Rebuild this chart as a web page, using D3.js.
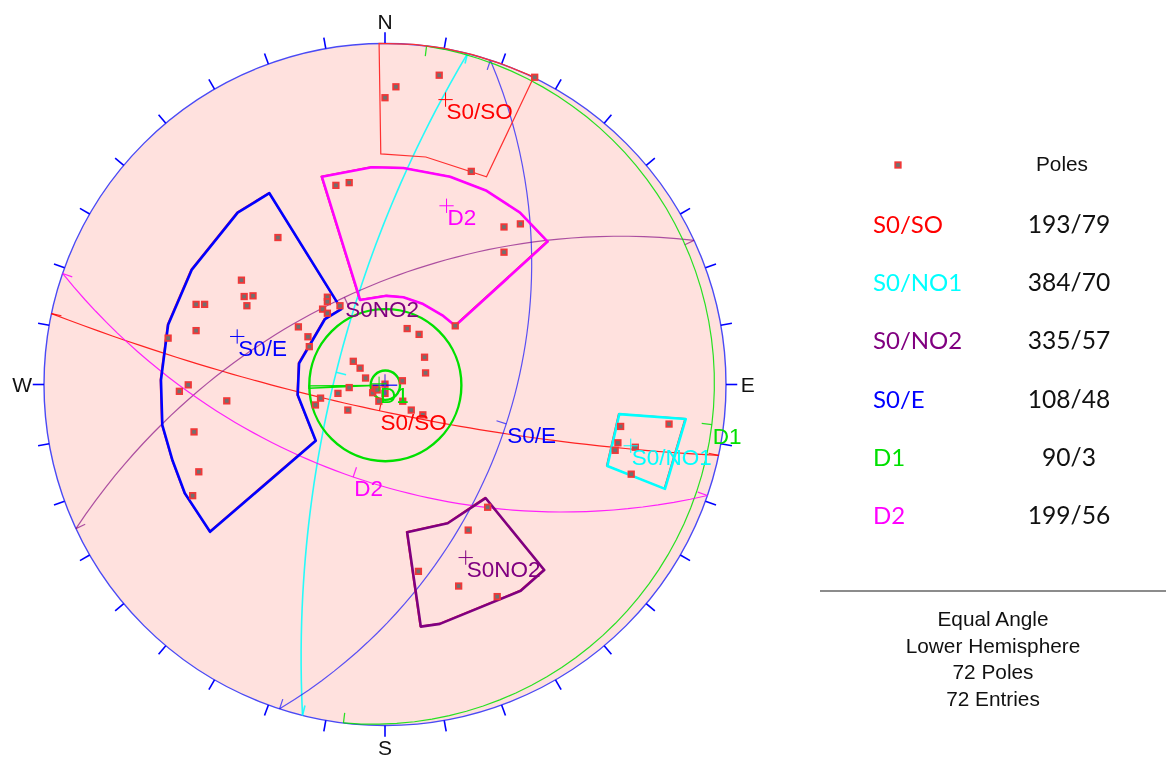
<!DOCTYPE html>
<html>
<head>
<meta charset="utf-8">
<script src="https://cdn.jsdelivr.net/npm/d3@7"></script>
<style>
  html, body { margin: 0; padding: 0; background: white; }
  svg { display: block; filter: blur(0.4px); }
  text { font-family: "Liberation Sans", Arial, sans-serif; }
</style>
</head>
<body>
<div id="visualization"></div>
<script>
let w = 1166, h = 758;

let poles = [
  [15.9, 90.7], [3.2, 87.3], [0, 84.1], [25.3, 62.5], [43.9, 90.1],
  [-14.4, 58.4], [-10.5, 59.2], [34.9, 46.2], [39.7, 47.1], [34.9, 38.8],
  [20.6, 17.2], [6.5, 16.4], [10.0, 14.7], [-16.9, 25.6], [-16.9, 24.3],
  [-18.3, 22.1], [-16.9, 20.9], [-13.2, 23.1], [-25.4, 16.9], [-22.6, 14.0],
  [-22.2, 11.1], [11.6, 8.0], [11.9, 3.4], [-9.3, 6.8], [-7.3, 4.8],
  [-5.7, 1.9], [5.1, 1.1], [-10.5, -0.9], [-13.8, -2.6], [-18.9, -4.0],
  [-20.4, -6.0], [-10.9, -7.5], [-1.8, -4.9], [5.2, -4.9], [7.7, -7.5],
  [11.1, -8.9], [-3.6, -2.4], [-2.9, -1.1], [-2.3, -1.6], [0, 0.1],
  [0, -2.6], [-31.4, 43.1], [-42.1, 30.6], [-41.3, 25.8], [-38.7, 26.0],
  [-40.5, 23.1], [-55.4, 23.5], [-52.9, 23.5], [-55.4, 15.8], [-63.6, 13.6],
  [-57.7, -0.1], [-60.3, -2.0], [-46.4, -4.8], [-56.0, -13.9], [-54.6, -25.6],
  [-56.4, -32.6], [69.1, -12.3], [83.3, -11.6], [68.3, -17.1], [67.5, -19.3],
  [73.4, -18.4], [72.2, -26.3], [30.1, -36.0], [24.4, -42.7], [9.8, -54.8],
  [21.6, -59.1], [32.9, -62.2]
];

// set windows, same units as the poles
let windowSO = [[-1.5, 99.9], [-1.0, 67.5], [12.2, 66.6], [30, 60.8], [43.9, 90.1], [34.2, 94], [25.9, 96.6], [17.4, 98.5], [8.7, 99.6]];
let windowD2 = [[-18.5, 60.9], [-3.9, 63.7], [5.4, 63.5], [19.1, 60.9], [29.8, 56.8], [39.6, 50.4], [47.7, 41.9], [20.6, 17.2], [17.1, 20.1], [11.2, 23.6], [5.4, 25.6], [0.5, 26.0], [-7.3, 24.8]];
let windowE = [[-33.9, 56.1], [-43.2, 50.4], [-56.7, 33.6], [-63.6, 17.5], [-65.7, 1.3], [-65.3, -11.9], [-62.3, -22.3], [-58.7, -31.9], [-51.3, -43.2], [-20.3, -16.5], [-25.6, -3.1], [-25.2, 6.2], [-17.6, 19.2], [-12.8, 22.1]];
let windowNO1 = [[68.7, -8.7], [88.2, -10.1], [82.1, -30.6], [65.2, -23.9]];
let windowNO2 = [[29.5, -33.3], [46.7, -54.4], [39.8, -60.5], [16.1, -70.2], [10.5, -71.0], [6.5, -43.3], [18.4, -40.7]];
let wedgeD1 = [[-22.3, -0.4], [-3.5, -0.3], [-22.3, -1.1]];

// planes as they plot on the net: dip direction, dip
let setNames = ["S0/SO", "S0/NO1", "S0NO2", "S0/E", "D1", "D2"];
let setColors = ["#ff0000", "#00ffff", "#800080", "#0000ff", "#00e000", "#ff00ff"];
let dipDirs = [192, 284, 335, 108, 97, 199];
let dips = [81, 73.2, 58.5, 49, 2, 58];

// legend
let legendNames = ["S0/SO", "S0/NO1", "S0/NO2", "S0/E", "D1", "D2"];
let legendValues = ["193/79", "384/70", "335/57", "108/48", "90/3", "199/56"];
let legendColors = ["#ff0000", "#00ffff", "#800080", "#0000ff", "#00e000", "#ff00ff"];
let infoLines = ["Equal Angle", "Lower Hemisphere", "72 Poles", "72 Entries"];

let cardinals = [["N", 0], ["E", 90], ["S", 180], ["W", 270]];

let viz = d3.select("#visualization")
    .append("svg")
    .attr("width", w)
    .attr("height", h)
;

let xScale = d3.scaleLinear().domain([-100, 100]).range([44, 726]);
let yScale = d3.scaleLinear().domain([-100, 100]).range([725.5, 43.5]);
let rScale = d3.scaleLinear().domain([0, 100]).range([0, 341]);

let line = d3.line().x(d => xScale(d[0])).y(d => yScale(d[1]));

function rad(a){
  return a * Math.PI / 180;
}

// equal angle projection of a trend/plunge
function project(trend, plunge){
  let r = 100 * Math.tan(rad(90 - plunge) / 2);
  return [r * Math.sin(rad(trend)), r * Math.cos(rad(trend))];
}

// great circle of a plane, walked from one strike end to the other
function greatCircle(dipDir, dip){
  let strike = dipDir - 90;
  return d3.range(0, 181, 3).map(function(a){
    let sx = Math.sin(rad(strike)) * Math.cos(rad(a));
    let sy = Math.cos(rad(strike)) * Math.cos(rad(a));
    let horiz = Math.cos(rad(dip)) * Math.sin(rad(a));
    let down = Math.sin(rad(dip)) * Math.sin(rad(a));
    let ex = sx + Math.sin(rad(dipDir)) * horiz;
    let ey = sy + Math.cos(rad(dipDir)) * horiz;
    let trend = Math.atan2(ex, ey) * 180 / Math.PI;
    let plunge = Math.asin(Math.min(1, down)) * 180 / Math.PI;
    return project(trend, plunge);
  });
}

// short mark from a point on the net towards the middle
function inwardTick(p, size){
  let r = Math.hypot(p[0], p[1]);
  return [p, [p[0] - p[0] / r * size, p[1] - p[1] / r * size]];
}

// the net
viz.append("circle")
    .attr("cx", xScale(0))
    .attr("cy", yScale(0))
    .attr("r", rScale(100))
    .attr("fill", "#ffe1de")
    .attr("stroke", "#4a4af5")
    .attr("stroke-width", 1.4)
;

viz.selectAll(".rimtick").data(d3.range(0, 360, 10)).enter()
    .append("path")
    .attr("class", "rimtick")
    .attr("d", function(a){
      return line([100, 103.3].map(r => [r * Math.sin(rad(a)), r * Math.cos(rad(a))]));
    })
    .attr("stroke", "#0000ff")
    .attr("stroke-width", 1.6)
    .attr("fill", "none")
;

viz.selectAll(".cardinal").data(cardinals).enter()
    .append("text")
    .attr("class", "cardinal")
    .attr("x", d => xScale(106.4 * Math.sin(rad(d[1]))))
    .attr("y", d => yScale(106.4 * Math.cos(rad(d[1]))) + 7.5)
    .attr("text-anchor", "middle")
    .attr("font-size", 21)
    .attr("fill", "#111")
    .text(d => d[0])
;

// great circles with their ticks
setNames.forEach(function(name, i){
  let pts = greatCircle(dipDirs[i], dips[i]);
  let color = setColors[i];
  let g = viz.append("g")
      .attr("fill", "none")
      .attr("stroke", color)
      .attr("stroke-width", i == 1 ? 1.6 : 1.2)
      .attr("stroke-opacity", i == 2 || i == 3 ? 0.65 : 0.85)
  ;
  g.append("path").attr("d", line(pts));
  let mid = pts[30];
  g.append("path").attr("d", line(inwardTick(mid, 3)));
  g.append("path").attr("d", line(inwardTick(pts[0], 3)));
  g.append("path").attr("d", line(inwardTick(pts[60], 3)));
});

// thin red outlines that sit just under the set windows
[windowSO, windowD2, windowE, windowNO1, windowNO2].forEach(function(win){
  viz.append("path")
      .attr("d", line(win) + "Z")
      .attr("transform", "translate(-0.8,-0.4)")
      .attr("fill", "none")
      .attr("stroke", "#ff3030")
      .attr("stroke-width", 1.2)
  ;
});

let thickWindows = [
  [windowD2, "#ff00ff"],
  [windowE, "#0000ff"],
  [windowNO1, "#00ffff"],
  [windowNO2, "#800080"]
];
thickWindows.forEach(function(d){
  viz.append("path")
      .attr("d", line(d[0]) + "Z")
      .attr("fill", "none")
      .attr("stroke", d[1])
      .attr("stroke-width", 2.6)
      .attr("stroke-linejoin", "round")
  ;
});

// D1 window: the two circles and the closed wedge
[22.3, 4.3].forEach(function(r){
  viz.append("circle")
      .attr("cx", xScale(0.1))
      .attr("cy", yScale(-0.2))
      .attr("r", rScale(r))
      .attr("fill", "none")
      .attr("stroke", "#00e000")
      .attr("stroke-width", 2.4)
  ;
});
viz.append("path")
    .attr("d", line(wedgeD1) + "Z")
    .attr("fill", "none")
    .attr("stroke", "#00e000")
    .attr("stroke-width", 1.4)
;

// poles
viz.selectAll(".pole").data(poles).enter()
    .append("rect")
    .attr("class", "pole")
    .attr("x", d => xScale(d[0]) - 2.75)
    .attr("y", d => yScale(d[1]) - 2.75)
    .attr("width", 5.5)
    .attr("height", 5.5)
    .attr("fill", "#707070")
    .attr("stroke", "#f03838")
    .attr("stroke-width", 1.8)
;

// blue crosshair in the middle of the net
viz.append("path")
    .attr("d", line([[-3.6, -0.2], [3.6, -0.2]]))
    .attr("stroke", "#0000ff")
    .attr("stroke-width", 1.2)
;
viz.append("path")
    .attr("d", line([[0, 3], [0, -3]]))
    .attr("stroke", "#6040e0")
    .attr("stroke-width", 1.2)
;

// mean pole crosses and labels at both the pole and the plane
setNames.forEach(function(name, i){
  let pole = project(dipDirs[i] + 180, 90 - dips[i]);
  let plane = project(dipDirs[i], dips[i]);
  let arm = 2.1;
  viz.append("path")
      .attr("d", line([[pole[0] - arm, pole[1]], [pole[0] + arm, pole[1]]]) + line([[pole[0], pole[1] - arm], [pole[0], pole[1] + arm]]))
      .attr("stroke", setColors[i])
      .attr("stroke-width", 1)
      .attr("fill", "none")
  ;
  let spots = i == 1 ? [pole] : [pole, plane];
  viz.selectAll(".lab" + i).data(spots).enter()
      .append("text")
      .attr("class", "lab" + i)
      .attr("x", d => xScale(d[0]) + 1)
      .attr("y", d => yScale(d[1]) + 19.5)
      .attr("font-size", 22.5)
      .attr("fill", setColors[i])
      .text(name)
  ;
});

// legend on the right
viz.append("rect")
    .attr("x", 895.25)
    .attr("y", 162.25)
    .attr("width", 5.5)
    .attr("height", 5.5)
    .attr("fill", "#707070")
    .attr("stroke", "#f03838")
    .attr("stroke-width", 1.8)
;
viz.append("text")
    .attr("x", 1062)
    .attr("y", 171)
    .attr("text-anchor", "middle")
    .attr("font-size", 20.8)
    .attr("fill", "#111")
    .text("Poles")
;

let rowScale = d3.scalePoint().domain(legendNames).range([225, 516]);

viz.selectAll(".legname").data(legendNames).enter()
    .append("text")
    .attr("class", "legname")
    .attr("x", 873)
    .attr("y", d => rowScale(d) + 8)
    .attr("font-size", 24)
    .style("font-family", "Lato, sans-serif")
    .attr("fill", (d, i) => legendColors[i])
    .text(d => d)
;
viz.selectAll(".legvalue").data(legendValues).enter()
    .append("text")
    .attr("class", "legvalue")
    .attr("x", 1069)
    .attr("y", (d, i) => rowScale(legendNames[i]) + 8)
    .attr("text-anchor", "middle")
    .attr("font-size", 24.6)
    .style("font-family", "Lato, sans-serif")
    .attr("fill", "#111")
    .text(d => d)
;

viz.append("line")
    .attr("x1", 820)
    .attr("x2", 1166)
    .attr("y1", 591)
    .attr("y2", 591)
    .attr("stroke", "#666")
    .attr("stroke-width", 1.4)
;

viz.selectAll(".info").data(infoLines).enter()
    .append("text")
    .attr("class", "info")
    .attr("x", 993)
    .attr("y", (d, i) => 626 + i * 26.7)
    .attr("text-anchor", "middle")
    .attr("font-size", 20.8)
    .attr("fill", "#111")
    .text(d => d)
;
</script>
</body>
</html>
